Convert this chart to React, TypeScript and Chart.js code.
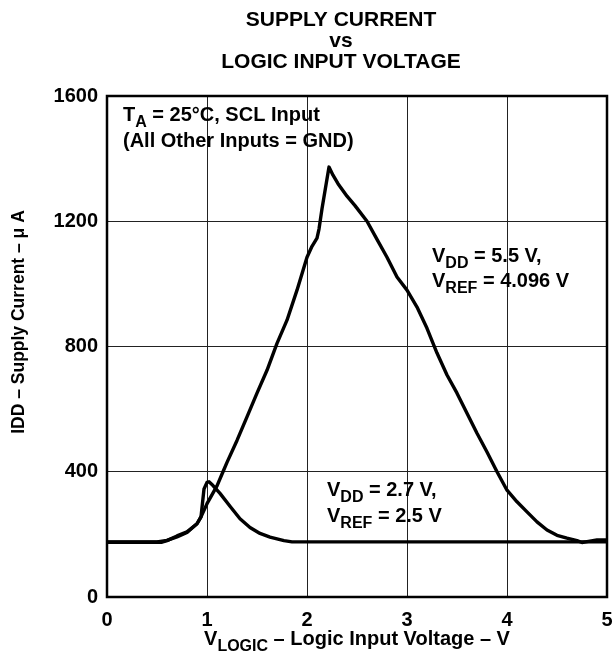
import React, { useEffect, useRef } from "react";
import { Chart, registerables } from "chart.js";

Chart.register(...registerables);

// VDD = 5.5 V, VREF = 4.096 V
const vLogic55 = [0, 0.5, 0.6, 0.7, 0.8, 0.9, 0.94, 1.0, 1.1, 1.16, 1.2, 1.3, 1.4, 1.5, 1.6, 1.7, 1.8, 1.9, 2.0, 2.05, 2.1, 2.12, 2.15, 2.22, 2.26, 2.31, 2.4, 2.48, 2.6, 2.7, 2.8, 2.9, 3.0, 3.1, 3.2, 3.3, 3.4, 3.5, 3.6, 3.7, 3.8, 3.9, 4.0, 4.1, 4.2, 4.3, 4.4, 4.5, 4.6, 4.7, 4.75, 4.8, 4.9, 5.0];
const idd55 = [176, 176, 181, 192, 206, 234, 256, 298, 355, 400, 430, 500, 575, 651, 724, 810, 884, 980, 1085, 1120, 1146, 1175, 1240, 1373, 1347, 1320, 1280, 1250, 1200, 1142, 1085, 1022, 980, 926, 858, 779, 709, 651, 587, 523, 463, 400, 341, 304, 272, 240, 214, 197, 188, 180, 174, 177, 182, 182];

// VDD = 2.7 V, VREF = 2.5 V
const vLogic27 = [0, 0.55, 0.6, 0.7, 0.8, 0.9, 0.94, 0.97, 1.0, 1.02, 1.06, 1.13, 1.23, 1.33, 1.43, 1.53, 1.63, 1.77, 1.85, 5.0];
const idd27 = [175, 175, 180, 195, 208, 234, 256, 345, 366, 368, 356, 331, 290, 250, 222, 203, 191, 180, 176, 176];

const xTicks = [0, 1, 2, 3, 4, 5];
const yTicks = [0, 400, 800, 1200, 1600];

const titleLines = ["SUPPLY CURRENT", "vs", "LOGIC INPUT VOLTAGE"];

const FONT = '"Liberation Sans", Arial, Helvetica, sans-serif';

type Seg = { t: string; sub?: boolean };

function drawRich(ctx: CanvasRenderingContext2D, x: number, y: number, segs: Seg[], size: number, align: "left" | "center" = "left") {
  const main = `bold ${size}px ${FONT}`;
  const sub = `bold ${Math.round(size * 0.82)}px ${FONT}`;
  let total = 0;
  for (const s of segs) {
    ctx.font = s.sub ? sub : main;
    total += ctx.measureText(s.t).width;
  }
  let cx = align === "center" ? x - total / 2 : x;
  ctx.textAlign = "left";
  ctx.textBaseline = "alphabetic";
  for (const s of segs) {
    ctx.font = s.sub ? sub : main;
    ctx.fillText(s.t, cx, s.sub ? y + Math.round(size * 0.3) : y);
    cx += ctx.measureText(s.t).width;
  }
}

const textPlugin = {
  id: "texts",
  afterDraw(chart: any) {
    const ctx: CanvasRenderingContext2D = chart.ctx;
    const a = chart.chartArea;
    ctx.save();
    // frame
    ctx.strokeStyle = "#000";
    ctx.lineWidth = 2.5;
    ctx.strokeRect(a.left, a.top, a.right - a.left, a.bottom - a.top);
    ctx.fillStyle = "#000";
    // title
    ctx.font = `bold 21px ${FONT}`;
    ctx.textAlign = "center";
    ctx.textBaseline = "alphabetic";
    ctx.fillText(titleLines[0], 341, 26);
    ctx.fillText(titleLines[1], 341, 47);
    ctx.fillText(titleLines[2], 341, 68);
    // annotations
    drawRich(ctx, 123, 121, [{ t: "T" }, { t: "A", sub: true }, { t: " = 25°C, SCL Input" }], 20);
    drawRich(ctx, 123, 147, [{ t: "(All Other Inputs = GND)" }], 20);
    drawRich(ctx, 432, 262, [{ t: "V" }, { t: "DD", sub: true }, { t: " = 5.5 V," }], 20);
    drawRich(ctx, 432, 287, [{ t: "V" }, { t: "REF", sub: true }, { t: " = 4.096 V" }], 20);
    drawRich(ctx, 327, 496, [{ t: "V" }, { t: "DD", sub: true }, { t: " = 2.7 V," }], 20);
    drawRich(ctx, 327, 522, [{ t: "V" }, { t: "REF", sub: true }, { t: " = 2.5 V" }], 20);
    // x axis title
    drawRich(ctx, (a.left + a.right) / 2, 645, [{ t: "V" }, { t: "LOGIC", sub: true }, { t: " – Logic Input Voltage – V" }], 20, "center");
    // y axis title
    ctx.translate(24, 322);
    ctx.rotate(-Math.PI / 2);
    drawRich(ctx, 0, 0, [{ t: "IDD – Supply Current – μ A" }], 17.5, "center");
    ctx.restore();
  },
};

export default function App() {
  const ref = useRef<HTMLCanvasElement | null>(null);
  useEffect(() => {
    if (!ref.current) return;
    const chart = new Chart(ref.current, {
      type: "line",
      data: {
        datasets: [
          {
            label: "VDD = 5.5 V, VREF = 4.096 V",
            data: vLogic55.map((x, i) => ({ x, y: idd55[i] })),
            borderColor: "#000",
            borderWidth: 3.4,
            pointRadius: 0,
            fill: false,
            tension: 0,
            borderJoinStyle: "round",
            borderCapStyle: "round",
          },
          {
            label: "VDD = 2.7 V, VREF = 2.5 V",
            data: vLogic27.map((x, i) => ({ x, y: idd27[i] })),
            borderColor: "#000",
            borderWidth: 3.4,
            pointRadius: 0,
            fill: false,
            tension: 0,
            borderJoinStyle: "round",
            borderCapStyle: "round",
          },
        ],
      },
      options: {
        responsive: false,
        animation: false,
        layout: { padding: { left: 0, top: 96, right: 9, bottom: 0 } },
        plugins: { legend: { display: false }, tooltip: { enabled: false }, title: { display: false } },
        scales: {
          x: {
            type: "linear",
            min: 0,
            max: 5,
            afterBuildTicks: (s: any) => { s.ticks = xTicks.map((v) => ({ value: v })); },
            afterFit: (s: any) => { s.height = 65; s.paddingLeft = 0; s.paddingRight = 0; },
            grid: { color: "#222", lineWidth: 1, drawTicks: false },
            border: { display: false },
            ticks: { color: "#000", padding: 11, font: { family: FONT, size: 20, weight: "bold" }, callback: (v: any) => String(v) },
          },
          y: {
            type: "linear",
            min: 0,
            max: 1600,
            afterBuildTicks: (s: any) => { s.ticks = yTicks.map((v) => ({ value: v })); },
            afterFit: (s: any) => { s.width = 107; s.paddingTop = 0; s.paddingBottom = 0; },
            grid: { color: "#222", lineWidth: 1, drawTicks: false },
            border: { display: false },
            ticks: { color: "#000", padding: 9, font: { family: FONT, size: 20, weight: "bold" }, callback: (v: any) => String(v) },
          },
        },
      },
      plugins: [textPlugin],
    } as any);
    return () => chart.destroy();
  }, []);
  return (
    <canvas
      ref={ref}
      width={616}
      height={662}
      style={{ position: "absolute", left: 0, top: 0, width: 616, height: 662 }}
    />
  );
}
